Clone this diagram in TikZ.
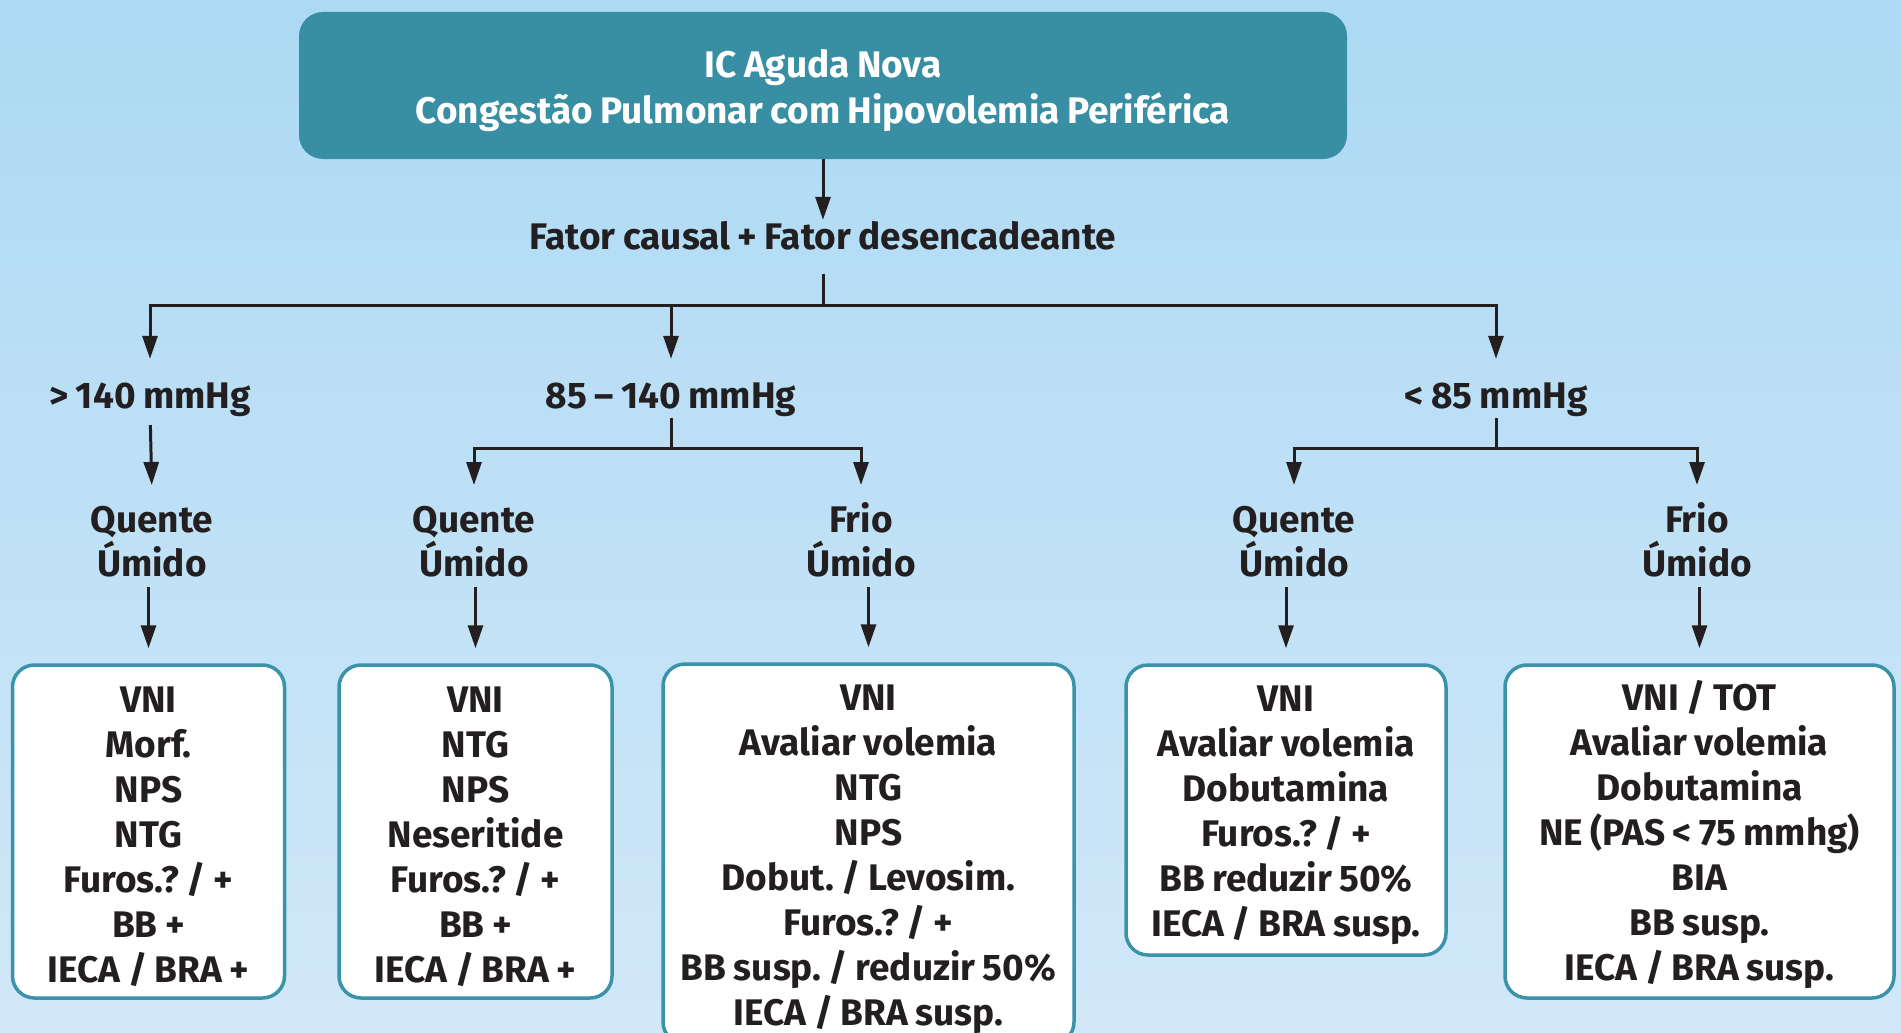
\documentclass[tikz,border=0pt]{standalone}
\usepackage{fontspec}
\setmainfont{Fira Sans}[WordSpace={0.85}]
\frenchspacing
\usetikzlibrary{arrows.meta}
\definecolor{bgtop}{RGB}{172,217,244}
\definecolor{bgbot}{RGB}{209,232,248}
\definecolor{tealbox}{RGB}{56,142,163}
\definecolor{tealline}{RGB}{58,147,168}
\definecolor{ink}{RGB}{35,31,32}
\newcommand\tstr{\rule{0pt}{36pt}}
\newcommand\bstr{\rule[-5pt]{0pt}{5pt}}
\tikzset{
  txt/.style={font=\bfseries\fontsize{37}{45}\selectfont, text=ink},
  lab/.style={txt, inner sep=0pt, text height=24pt, text depth=0pt, anchor=base},
  duo/.style={txt, font=\bfseries\fontsize{37}{44}\selectfont, inner sep=0pt, align=center, anchor=north},
  topbox/.style={rectangle, rounded corners=24pt, fill=tealbox, text=white,
    font=\bfseries\fontsize{37}{46}\selectfont, align=center,
    minimum width=1048pt, minimum height=147pt},
  tbox/.style={txt, rectangle, rounded corners=22pt, draw=tealline, line width=3.5pt,
    fill=white, align=center, inner sep=0pt},
  conn/.style={draw=ink, line width=3pt},
  arr/.style={conn, -{Triangle[length=23pt,width=15pt]}},
}
\begin{document}
\begin{tikzpicture}[x=1pt,y=-1pt]
\useasboundingbox (0,0) rectangle (1901,1033);
\begin{scope}
\clip (0,0) rectangle (1901,1033);
\shade[top color=bgtop,bottom color=bgbot] (0,0) rectangle (1901,1033);

\node[topbox] (top) at (823,85.5) {\rule{0pt}{38pt}IC Aguda Nova\\Congestão Pulmonar com Hipovolemia Periférica};
\node[lab] (fator) at (823,249) {Fator causal + Fator desencadeante};
\coordinate (j0) at (823,305);

\node[lab] (p1) at (150,408) {> 140 mmHg};
\node[lab] (p2) at (671,408) {85 – 140 mmHg};
\node[lab] (p3) at (1496,408) {< 85 mmHg};
\coordinate (j2) at (671,448);
\coordinate (j3) at (1496,448);

\node[duo] (q1) at (152,496) {\tstr Quente\\Úmido\bstr};
\node[duo] (q2) at (474,496) {\tstr Quente\\Úmido\bstr};
\node[duo] (q3) at (861,496) {\tstr Frio\\Úmido\bstr};
\node[duo] (q4) at (1294,496) {\tstr Quente\\Úmido\bstr};
\node[duo] (q5) at (1697,496) {\tstr Frio\\Úmido\bstr};

\node[tbox, minimum width=272pt, minimum height=333pt] (b1) at (148.5,831.5)
  {\tstr VNI\\Morf.\\NPS\\NTG\\Furos.? / +\\BB +\\IECA / BRA +\bstr};
\node[tbox, minimum width=273pt, minimum height=333pt] (b2) at (475.5,831.5)
  {\tstr VNI\\NTG\\NPS\\Neseritide\\Furos.? / +\\BB +\\IECA / BRA +\bstr};
\node[tbox, minimum width=411pt, minimum height=380pt] (b3) at (868.5,854)
  {\tstr VNI\\Avaliar volemia\\NTG\\NPS\\Dobut. / Levosim.\\Furos.? / +\\BB susp. / reduzir 50\%\\IECA / BRA susp.\bstr};
\node[tbox, minimum width=320pt, minimum height=290pt] (b4) at (1286,810)
  {\tstr VNI\\Avaliar volemia\\Dobutamina\\Furos.? / +\\BB reduzir 50\%\\IECA / BRA susp.\bstr};
\node[tbox, minimum width=389pt, minimum height=333pt] (b5) at (1699.5,831.5)
  {\tstr VNI / TOT\\Avaliar volemia\\Dobutamina\\NE (PAS < 75 mmhg)\\BIA\\BB susp.\\IECA / BRA susp.\bstr};

\draw[arr, shorten >=5pt] (top.south) -- (fator.north);
\draw[conn, shorten <=25pt] (fator.south) -- (j0);
\draw[arr, shorten >=25pt] (j0) -| (p1.north);
\draw[arr, shorten >=25pt] (j0) -| (p2.north);
\draw[arr, shorten >=25pt] (j0) -| (p3.north);

\draw[arr, shorten <=17pt, shorten >=11pt] (p1.south) -- (q1.north);
\draw[conn, shorten <=10pt] (p2.south) -- (j2);
\draw[arr, shorten >=11pt] (j2) -| (q2.north);
\draw[arr, shorten >=11pt] (j2) -| (q3.north);
\draw[conn, shorten <=10pt] (p3.south) -- (j3);
\draw[arr, shorten >=11pt] (j3) -| (q4.north);
\draw[arr, shorten >=11pt] (j3) -| (q5.north);

\foreach \q/\b in {q1/b1,q2/b2,q3/b3,q4/b4,q5/b5}
  \draw[arr, shorten <=6pt, shorten >=15pt] (\q.south -| \b.north) -- (\b.north);
\end{scope}
\end{tikzpicture}
\end{document}
